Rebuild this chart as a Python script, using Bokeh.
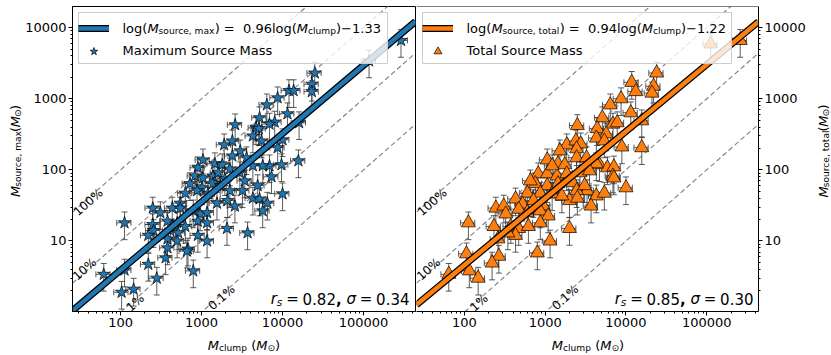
import math
from bokeh.plotting import figure
from bokeh.layouts import row, column
from bokeh.models import (ColumnDataSource, Whisker, TeeHead, Label, Legend, LegendItem,
                          LogTicker, NumeralTickFormatter, Span, BoxAnnotation, Range1d)
from bokeh.core.properties import value
from bokeh.embed import file_html
from bokeh.resources import INLINE

# ---------------- data ----------------
clump_mass_max = [290000, 117000, 25000, 23000, 23000, 12000, 13700, 8700, 6400, 11500,
                  5200, 8000, 6900, 2600, 4700, 5100, 16000, 4300, 2400, 5500,
                  10000, 1900, 8700, 3000, 2400, 3600, 1040, 1460, 1800, 900,
                  15700, 6900, 9700, 4300, 5700, 7300, 830, 1040, 1380, 720,
                  1010, 1380, 1700, 630, 880, 1200, 2240, 3200, 4300, 5200,
                  6500, 10000, 2100, 1550, 545, 435, 310, 250, 790, 960,
                  1170, 900, 1170, 250, 380, 500, 630, 112, 2060, 3700,
                  255, 410, 515, 900, 1170, 380, 500, 680, 380, 360,
                  220, 220, 280, 62, 112, 103, 145, 790, 660, 545,
                  1600, 2240, 1940, 2970, 3420, 2580, 4930, 5690]
source_mass_max = [6600, 3400, 2300, 1600, 1260, 1300, 1300, 1030, 820, 615,
                   540, 470, 440, 430, 390, 380, 460, 300, 255, 255,
                   265, 225, 205, 185, 157, 148, 138, 122, 118, 107,
                   134, 114, 118, 114, 114, 80, 82, 77, 82, 64,
                   56, 64, 60, 47, 51, 46, 51, 51, 40, 39,
                   34, 46, 37, 34, 34, 29, 25, 29, 26.5, 24,
                   25, 19, 18, 17, 19, 18, 16, 18, 15, 13,
                   14, 14, 13, 12, 10, 10.7, 10, 7.7, 8, 5.8,
                   12, 4.7, 3.0, 3.4, 3.9, 1.9, 2.1, 3.8, 7.2, 29,
                   91, 103, 75, 91, 70, 31, 60, 26.5]

clump_mass_tot = [260000, 112000, 24000, 11800, 22000, 13200, 21000, 8700, 6400, 11500,
                  5100, 6900, 7800, 2500, 4400, 5700, 15700, 4300, 1850, 2400,
                  2750, 5400, 8900, 15700, 2450, 2450, 3250, 1060, 1440, 1750,
                  820, 1060, 1400, 4700, 5900, 7100, 6900, 2700, 4300, 1850,
                  755, 1060, 1440, 2200, 600, 870, 1220, 3300, 2450, 4300,
                  5400, 7100, 10000, 430, 525, 715, 950, 2000, 2500, 3700,
                  245, 307, 325, 470, 600, 870, 1090, 870, 232, 375,
                  470, 620, 112, 2000, 260, 430, 345, 1150, 800, 267,
                  106, 115, 148, 64, 220, 1520, 3540, 1220, 3080, 656,
                  1610]
source_mass_tot = [6600, 5900, 2300, 1700, 1500, 1260, 1200, 1000, 820, 635,
                   540, 440, 460, 420, 380, 320, 490, 280, 225, 255,
                   232, 255, 210, 205, 198, 148, 148, 138, 122, 118,
                   88, 88, 82, 118, 107, 110, 82, 91, 122, 88,
                   64, 60, 64, 66, 47, 47, 46, 51, 51, 43,
                   47, 77, 56, 39, 33, 37, 31, 37, 40, 31,
                   29, 31, 24, 28, 25, 26.5, 22.5, 18, 16, 16,
                   15, 16, 18, 15, 10.7, 12, 13, 10, 6.8, 6.1,
                   6.6, 3.8, 3.0, 3.4, 4.9, 185, 97, 114, 60, 70,
                   43]

X_ERR_FRAC = 0.20      # relative uncertainty on clump mass
Y_ERR_FRAC = 0.42      # relative uncertainty on source mass

fit_max = (0.96, -1.33)   # slope, intercept of log-log fit
fit_tot = (0.94, -1.22)
stats_max = ("0.82", "0.34")
stats_tot = ("0.85", "0.30")

efficiency_fracs = [1.0, 0.1, 0.01, 0.001]
efficiency_labels = ["100%", "10%", "1%", "0.1%"]
efficiency_label_x = [40, 36, 152, 1770]
efficiency_label_y = [35, 4.0, 1.35, 1.6]

X_RANGE = (25.5, 438000)
Y_RANGE = (1.02, 19800)

BLUE = "#1f77b4"
ORANGE = "#ff7f0e"
ERR_COLOR = "#333333"
FONT = "DejaVu Sans"

# --------------- layout constants (page has no margin) ---------------
FRAME_W = 343
FRAME_H = 305
TOP = 6
BOTTOM = 23
MAIN_H = TOP + FRAME_H + BOTTOM      # 334
YL_W = 22
P1_LEFT = 50
P2_RIGHT = 49
YR_W = 23
XL_H = 355 - MAIN_H
TOTAL_W = YL_W + (P1_LEFT + FRAME_W + 1) + (FRAME_W + P2_RIGHT) + YR_W   # 831

# --------------- text helpers ---------------
CW = {' ': 0.318, '(': 0.390, ')': 0.390, ',': 0.318, '.': 0.318, '=': 0.838, '\u2212': 0.838,
      '%': 0.950, 'a': 0.613, 'c': 0.550, 'e': 0.615, 'g': 0.635, 'l': 0.278, 'm': 0.974,
      'o': 0.612, 'p': 0.635, 'r': 0.411, 's': 0.521, 't': 0.392, 'u': 0.634, 'x': 0.592,
      'M': 0.863, 'S': 0.635, 'T': 0.611, '\u2299': 0.838, '\u03c3': 0.634}


def char_w(c, style):
    if c.isdigit():
        return 0.636
    w = CW.get(c, 0.6)
    if style == "bold" and c == ",":
        w = 0.38
    return w


def layout_segs(segs, size, anchor):
    widths = [sum(char_w(c, st) for c in t) * size * sc for t, st, sc, dy in segs]
    total = sum(widths)
    pos = {"left": 0.0, "center": -total / 2.0, "right": -total}[anchor]
    out = []
    for (t, st, sc, dy), w in zip(segs, widths):
        stripped = t.lstrip(" ")
        lead = (len(t) - len(stripped)) * 0.318 * size * sc
        txt = stripped.rstrip(" ")
        if txt:
            out.append((txt, st, size * sc, pos + lead, dy * size))
        pos += w
    return out


def rich_frame(p, segs, x, y, size, anchor="left"):
    """Labels inside the plot frame, screen units relative to frame bottom-left (y up)."""
    for txt, st, fs, a, d in layout_segs(segs, size, anchor):
        p.add_layout(Label(x=x + a, y=y + d, x_units="screen", y_units="screen", text=txt,
                           text_font=FONT, text_font_size=f"{fs:.2f}px", text_font_style=st,
                           text_color="black", text_align="left", text_baseline="alphabetic"))


def rich_px(f, segs, x, y, size, angle=0.0, anchor="left"):
    """Text glyphs on a pixel-mapped helper figure (y grows downward)."""
    ca, sa = math.cos(angle), math.sin(angle)
    for txt, st, fs, a, d in layout_segs(segs, size, anchor):
        px = x + a * ca - d * sa
        py = y - a * sa - d * ca
        f.text(x=[px], y=[py], text=[txt], angle=angle, text_font=value(FONT),
               text_font_size=value(f"{fs:.2f}px"), text_font_style=value(st),
               text_color="black", text_align="left", text_baseline="alphabetic")


def helper_fig(w, h):
    f = figure(width=w, height=h, x_range=Range1d(0, w), y_range=Range1d(h, 0),
               output_backend="svg", toolbar_location=None, min_border=0,
               x_axis_location=None, y_axis_location=None)
    f.outline_line_color = None
    f.xgrid.visible = False
    f.ygrid.visible = False
    return f


def style_axes(p):
    p.outline_line_color = "black"
    p.outline_line_width = 1
    p.outline_line_alpha = 1
    p.xgrid.visible = False
    p.ygrid.visible = False
    for ax in [p.xaxis[0], p.yaxis[0]]:
        ax.ticker = LogTicker(num_minor_ticks=10)
        ax.formatter = NumeralTickFormatter(format="0")
        ax.major_tick_in = 0
        ax.major_tick_out = 4
        ax.minor_tick_in = 0
        ax.minor_tick_out = 2
        ax.major_label_text_font = FONT
        ax.major_label_text_font_size = "13px"
        ax.major_label_text_color = "black"
        ax.axis_line_color = "black"
        ax.major_tick_line_color = "black"
        ax.minor_tick_line_color = "black"
        ax.major_label_standoff = 2
        ax.axis_label = None


def panel(xs, ys, color, marker, msize, fit, stats, sub_name, legend_text, y_side):
    if y_side == "left":
        p = figure(width=P1_LEFT + FRAME_W + 1, height=MAIN_H, x_axis_type="log",
                   y_axis_type="log", x_range=X_RANGE, y_range=Y_RANGE, output_backend="svg",
                   toolbar_location=None, min_border_left=P1_LEFT, min_border_right=1,
                   min_border_top=TOP, min_border_bottom=BOTTOM)
        style_axes(p)
    else:
        p = figure(width=FRAME_W + P2_RIGHT, height=MAIN_H, x_axis_type="log",
                   y_axis_type="log", x_range=X_RANGE, y_range=Y_RANGE, output_backend="svg",
                   toolbar_location=None, y_axis_location="right", min_border_left=0,
                   min_border_right=P2_RIGHT, min_border_top=TOP, min_border_bottom=BOTTOM)
        style_axes(p)
        p.outline_line_color = None
        p.add_layout(Span(location=Y_RANGE[1], dimension="width", line_color="black", line_width=1))

    # efficiency diagonals
    for f in efficiency_fracs:
        p.line([X_RANGE[0], X_RANGE[1]], [f * X_RANGE[0], f * X_RANGE[1]],
               line_color="#7f7f7f", line_width=1.1, line_dash="5 3")
    ang = math.atan((FRAME_H / math.log10(Y_RANGE[1] / Y_RANGE[0])) /
                    (FRAME_W / math.log10(X_RANGE[1] / X_RANGE[0])))
    p.text(x=efficiency_label_x, y=efficiency_label_y, text=efficiency_labels, angle=ang,
           text_align="center", text_baseline="middle", text_font=value(FONT),
           text_font_size=value("12px"), text_color="black")

    src = ColumnDataSource(dict(
        x=xs, y=ys,
        xl=[v * (1 - X_ERR_FRAC) for v in xs], xu=[v * (1 + X_ERR_FRAC) for v in xs],
        yl=[v * (1 - Y_ERR_FRAC) for v in ys], yu=[v * (1 + Y_ERR_FRAC) for v in ys]))
    for dim, base, lo, hi in [("height", "x", "yl", "yu"), ("width", "y", "xl", "xu")]:
        p.add_layout(Whisker(source=src, base=base, lower=lo, upper=hi, dimension=dim,
                             level="underlay", line_color=ERR_COLOR, line_alpha=0.8, line_width=1,
                             upper_head=TeeHead(size=6, line_color=ERR_COLOR, line_alpha=0.8),
                             lower_head=TeeHead(size=6, line_color=ERR_COLOR, line_alpha=0.8)))
    sc = p.scatter("x", "y", source=src, marker=marker, size=msize, fill_color=color,
                   line_color="black", line_width=0.7)

    fx = [X_RANGE[0], X_RANGE[1]]
    fy = [10 ** (fit[0] * math.log10(v) + fit[1]) for v in fx]
    l1 = p.line(fx, fy, line_color="black", line_width=7)
    l2 = p.line(fx, fy, line_color=color, line_width=4.5)

    # legend frame (drawn first), then texts, then transparent legend with glyphs
    p.add_layout(BoxAnnotation(left=6, right=315, top=FRAME_H - 6, bottom=FRAME_H - 57,
                               left_units="screen", right_units="screen", top_units="screen",
                               bottom_units="screen", fill_color="white", fill_alpha=0.8,
                               line_color="#cccccc", line_width=1, line_alpha=1))
    rich_frame(p, [("log(", "normal", 1, 0), ("M", "italic", 1, 0), (sub_name, "normal", 0.7, -0.22),
                   (")", "normal", 1, 0), (" = ", "normal", 1, 0),
                   (" " + f"{fit[0]:.2f}" + "log(", "normal", 1, 0),
                   ("M", "italic", 1, 0), ("clump", "normal", 0.7, -0.22),
                   (")\u2212" + f"{-fit[1]:.2f}", "normal", 1, 0)],
               50, FRAME_H - 22, 13)
    rich_frame(p, [(legend_text, "normal", 1, 0)], 50, FRAME_H - 44, 13)

    leg = Legend(items=[LegendItem(label=" ", renderers=[l1, l2]),
                        LegendItem(label="  ", renderers=[sc])],
                 location=(6, FRAME_H - 6 - 49), margin=0, padding=3, spacing=3,
                 glyph_width=31, glyph_height=20, label_height=20, label_width=263,
                 label_standoff=9, label_text_font_size="2px",
                 background_fill_alpha=0, border_line_color=None)
    p.add_layout(leg)

    # statistics
    rich_frame(p, [("r", "italic", 1, 0), ("s", "italic", 0.7, -0.2), (" ", "normal", 0.8, 0),
                   ("=", "normal", 1, 0), (" ", "normal", 0.8, 0), (stats[0], "normal", 1, 0),
                   (",", "bold", 1, 0), (" ", "normal", 1, 0), ("\u03c3", "italic", 1, 0),
                   (" ", "normal", 0.8, 0), ("=", "normal", 1, 0), (" ", "normal", 0.8, 0),
                   (stats[1], "normal", 1, 0)],
               FRAME_W - 6, 13, 15, anchor="right")
    return p


p1 = panel(clump_mass_max, source_mass_max, BLUE, "star", 13, fit_max, stats_max,
           "source, max", "Maximum Source Mass", "left")
p2 = panel(clump_mass_tot, source_mass_tot, ORANGE, "triangle", 14, fit_tot, stats_tot,
           "source, total", "Total Source Mass", "right")

# axis-title strips (pixel-mapped helper figures)
def ylabel_segs(sub):
    return [("M", "italic", 1, 0), (sub, "normal", 0.7, -0.22), (" (", "normal", 1, 0),
            ("M", "italic", 1, 0), ("\u2299", "normal", 0.7, -0.22), (")", "normal", 1, 0)]


xlabel_segs = [("M", "italic", 1, 0), ("clump", "normal", 0.7, -0.22), (" (", "normal", 1, 0),
               ("M", "italic", 1, 0), ("\u2299", "normal", 0.7, -0.22), (")", "normal", 1, 0)]

frame_mid_y = TOP + FRAME_H / 2.0
yl = helper_fig(YL_W, MAIN_H)
rich_px(yl, ylabel_segs("source, max"), 15, frame_mid_y, 13, angle=math.pi / 2, anchor="center")
yr = helper_fig(YR_W, MAIN_H)
rich_px(yr, ylabel_segs("source, total"), 15, frame_mid_y, 13, angle=math.pi / 2, anchor="center")

xl = helper_fig(TOTAL_W, XL_H)
left_mid = YL_W + P1_LEFT + FRAME_W / 2.0
right_mid = YL_W + P1_LEFT + FRAME_W + 1 + FRAME_W / 2.0
rich_px(xl, xlabel_segs, left_mid, 11, 13, anchor="center")
rich_px(xl, xlabel_segs, right_mid, 11, 13, anchor="center")

layout = column(row(yl, p1, p2, yr), xl)
open("out.html", "w").write(file_html(layout, INLINE))
